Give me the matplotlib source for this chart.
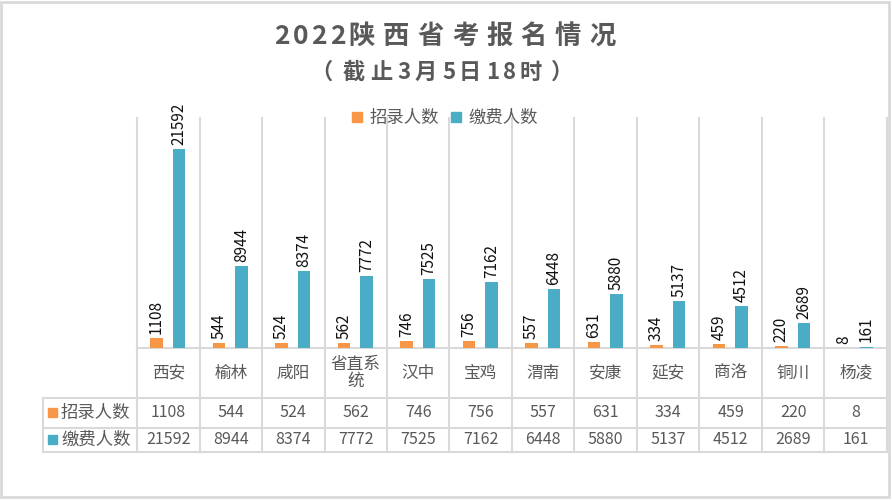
import matplotlib
matplotlib.use('Agg')
import matplotlib.pyplot as plt
from matplotlib.patches import Patch, Rectangle
import matplotlib.transforms as mtrans

plt.rcParams['font.family'] = ['Noto Sans CJK SC', 'DejaVu Sans']

# data
cities = ['西安', '榆林', '咸阳', '省直系\n统', '汉中', '宝鸡', '渭南', '安康', '延安', '商洛', '铜川', '杨凌']
hired = [1108, 544, 524, 562, 746, 756, 557, 631, 334, 459, 220, 8]
paid = [21592, 8944, 8374, 7772, 7525, 7162, 6448, 5880, 5137, 4512, 2689, 161]
series_names = ['招录人数', '缴费人数']
title = '2022陕西省考报名情况'
subtitle = '（截止3月5日18时）'

c_org = '#F79646'
c_blu = '#4BACC6'
c_grid = '#d9d9d9'
c_txt = '#595959'

W, H = 892, 500
fig = plt.figure(figsize=(W/100, H/100), dpi=100)
rend = fig.canvas.get_renderer()

def spaced_text(s, cx, base_py, size, sp_cjk, sp_asc, extra=None):
  # draw a string char by char with letter spacing (like Excel title spacing)
  extra = extra or {}
  items = []
  for ch in s:
    t = fig.text(0, 0, ch, fontsize=size, fontweight='bold', color=c_txt,
                 ha='left', va='baseline')
    w = t.get_window_extent(rend).width
    gap = (sp_cjk if ord(ch) > 0x2E80 else sp_asc) + extra.get(ch, 0)
    items.append((t, w, gap))
  total = sum(w + g for _, w, g in items) - items[-1][2]
  x = cx - total/2
  for t, w, g in items:
    t.set_position((x/W, 1 - base_py/H))
    x += w + g

# plot area in pixels
px0, px1, py_top, py_base = 137, 887, 118, 348
ax = fig.add_axes([px0/W, 1-py_base/H, (px1-px0)/W, (py_base-py_top)/H])
n = len(cities)
ax.set_xlim(-0.5, n-0.5)
ax.set_ylim(0, 25000)
ax.axis('off')

bw = 0.2
xs = list(range(n))
b1 = ax.bar([x-0.19 for x in xs], hired, bw, color=c_org, zorder=3)
b2 = ax.bar([x+0.17 for x in xs], paid, bw, color=c_blu, zorder=3)
for bars, vals in ((b1, hired), (b2, paid)):
  for r, v in zip(bars, vals):
    ax.annotate(str(v), (r.get_x()+r.get_width()/2, r.get_height()),
                xytext=(0, 3), textcoords='offset points', rotation=90,
                ha='center', va='bottom', fontsize=11, color='#111111')

# table drawn in data-x / pixel-derived axes-y coordinates
def ay(py):
  return (py_base - py)/(py_base - py_top)
tr = mtrans.blended_transform_factory(ax.transData, ax.transAxes)
ln = dict(color=c_grid, lw=1.5, clip_on=False, zorder=1)

for i in range(n+1):
  ax.plot([i-0.5, i-0.5], [ay(452), 1], transform=tr, **ln)
ax.plot([-0.5, n-0.5], [0, 0], transform=tr, **ln)
hx = (43 - px0)/(px1-px0)
trA = ax.transAxes
for py in (398, 428, 452):
  ax.plot([hx, 1], [ay(py), ay(py)], transform=trA, **ln)
ax.plot([hx, hx], [ay(398), ay(452)], transform=trA, **ln)

for i, c in enumerate(cities):
  ax.text(i, ay(373), c, transform=tr, ha='center', va='center',
          fontsize=12, color=c_txt, linespacing=1.0)
  ax.text(i, ay(413), str(hired[i]), transform=tr, ha='center', va='center',
          fontsize=11.5, color=c_txt)
  ax.text(i, ay(440), str(paid[i]), transform=tr, ha='center', va='center',
          fontsize=11.5, color=c_txt)

for py, col, name in ((413, c_org, series_names[0]), (440, c_blu, series_names[1])):
  sx = (48 - px0)/(px1-px0)
  sw = 9/(px1-px0)
  sh = 9/(py_base-py_top)
  ax.add_patch(Rectangle((sx, ay(py)-sh/2), sw, sh, transform=trA,
                         color=col, clip_on=False))
  ax.text((61 - px0)/(px1-px0), ay(py), name, transform=trA, ha='left',
          va='center', fontsize=12.5, color=c_txt)

# legend
handles = [Patch(color=c_org, label=series_names[0]),
           Patch(color=c_blu, label=series_names[1])]
lg = fig.legend(handles=handles, loc='center', bbox_to_anchor=(445/W, 1-118/H),
                ncol=2, frameon=False, fontsize=12.5, handlelength=0.55,
                handleheight=0.55, handletextpad=0.45, columnspacing=0.7)
for t in lg.get_texts():
  t.set_color(c_txt)

# titles
spaced_text(title, 445, 44, 19, 8, 3)
spaced_text(subtitle, 442, 79, 16, 5.5, 3.5, extra={'（': 4, '时': 4})

# outer frame
fig.add_artist(Rectangle((1/W, 3/H), (W-4)/W, (H-5)/H, transform=fig.transFigure,
                         fill=False, edgecolor=c_grid, lw=2))

fig.savefig('out.png', dpi=100)
